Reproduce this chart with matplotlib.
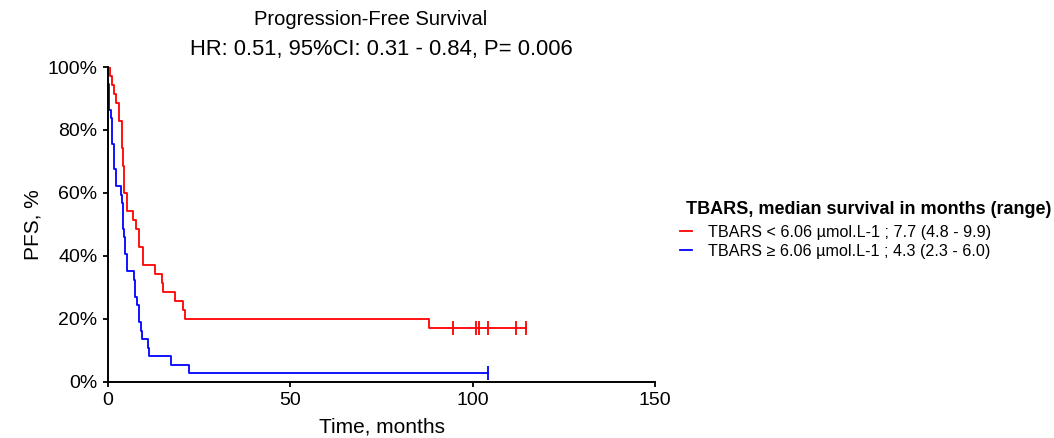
import numpy as np
import matplotlib
matplotlib.use('Agg')
import matplotlib.pyplot as plt
from matplotlib.lines import Line2D

plt.rcParams['font.family'] = ['Liberation Sans', 'DejaVu Sans']

# progression / censoring times in months (event 1 = progression, 0 = censored)
low_times = [0.55, 1.2, 1.7, 2.1, 3.0, 3.0, 3.9, 3.9, 3.9, 4.2, 4.2,
             4.5, 4.5, 4.5, 5.3, 5.3, 6.9, 7.7, 8.5, 8.5, 9.7, 9.7,
             12.9, 14.8, 15.2, 18.4, 20.6, 21.1, 87.9,
             94.5, 100.9, 101.8, 104.3, 111.8, 114.5]
low_events = [1] * 29 + [0] * 6

high_times = [0.1, 0.1, 0.4, 0.4, 0.4, 0.8, 1.2, 1.2, 1.2, 1.6, 1.6, 1.6,
              2.1, 2.1, 3.6, 3.9, 4.0, 4.1, 4.2, 4.3, 4.7, 4.7, 5.3, 5.3,
              7.2, 7.4, 7.4, 8.0, 8.5, 8.5, 9.0, 9.4, 10.9, 11.3, 17.2, 22.3,
              104.3]
high_events = [1] * 36 + [0]

labels = ['TBARS < 6.06 \u00b5mol.L-1 ; 7.7 (4.8 - 9.9)',
          'TBARS \u2265 6.06 \u00b5mol.L-1 ; 4.3 (2.3 - 6.0)']
colors = ['#ff0000', '#0000ff']


def kaplan_meier(times, events):
    t = np.array(times, dtype=float)
    e = np.array(events)
    order = np.argsort(t, kind='stable')
    t, e = t[order], e[order]
    xs, ys = [0.0], [100.0]
    s = 1.0
    cens_x, cens_y = [], []
    for ut in np.unique(t):
        at_risk = np.sum(t >= ut)
        d = np.sum((t == ut) & (e == 1))
        if d > 0:
            s *= 1 - d / at_risk
            xs.append(ut)
            ys.append(s * 100)
        if np.any((t == ut) & (e == 0)):
            cens_x.append(ut)
            cens_y.append(s * 100)
    xs.append(t.max())
    ys.append(s * 100)
    return np.array(xs), np.array(ys), cens_x, cens_y


fig = plt.figure(figsize=(10.54, 4.38), dpi=100)
ax = fig.add_axes([0.1025, 0.128, 0.519, 0.719])

for times, events, c in [(low_times, low_events, colors[0]),
                         (high_times, high_events, colors[1])]:
    x, y, cx, cy = kaplan_meier(times, events)
    ax.step(x, y, where='post', color=c, lw=1.3)
    ax.plot(cx, cy, ls='none', marker='|', ms=10, mew=1.3, color=c)

ax.set_xlim(0, 150)
ax.set_ylim(0, 100)
ax.set_xticks([0, 50, 100, 150])
ax.set_yticks(range(0, 101, 20))
ax.set_yticklabels([f'{v}%' for v in range(0, 101, 20)])
ax.spines['top'].set_visible(False)
ax.spines['right'].set_visible(False)
for sp in ('left', 'bottom'):
    ax.spines[sp].set_linewidth(1.4)
ax.tick_params(labelsize=14, width=1.3, length=3.5, pad=4, direction='out')
ax.set_xlabel('Time, months', fontsize=15, labelpad=6)
ax.set_ylabel('PFS, %', fontsize=15)

fig.text(0.352, 0.955, 'Progression-Free Survival', ha='center', va='center', fontsize=14.5)
fig.text(0.362, 0.888, 'HR: 0.51, 95%CI: 0.31 - 0.84, P= 0.006', ha='center', va='center', fontsize=15.8)

# legend title drawn separately so the handles can sit left of it
fig.text(0.651, 0.521, 'TBARS, median survival in months (range)',
         ha='left', va='center', fontsize=13, fontweight='bold')
handles = [Line2D([], [], color=c, lw=1.3) for c in colors]
fig.legend(handles, labels, loc='upper left', bbox_to_anchor=(0.6455, 0.486),
           frameon=False, fontsize=11.6, borderaxespad=0, borderpad=0,
           handlelength=0.7, handletextpad=1.0, labelspacing=0.22)

fig.savefig('out.png', dpi=100)
